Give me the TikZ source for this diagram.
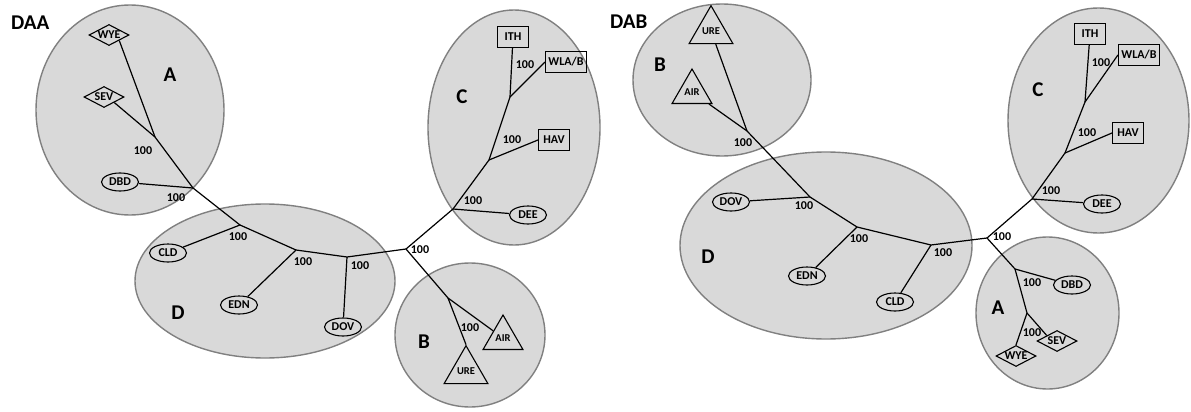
\documentclass[tikz,border=0pt]{standalone}
\usepackage{fontspec}
\setmainfont{Carlito}
\usetikzlibrary{shapes.geometric}
\definecolor{clusterfill}{RGB}{217,217,217}
\definecolor{clusterline}{RGB}{128,128,128}

\begin{document}
\begin{tikzpicture}[x=10pt,y=10pt]
\tikzstyle{cluster}=[draw=clusterline,fill=clusterfill,line width=1.4pt]
\tikzstyle{leafoval}=[ellipse,draw,line width=1.1pt,inner sep=0pt,minimum width=37pt,minimum height=18pt,font=\fontsize{12}{12}\selectfont\bfseries]
\tikzstyle{leafdiamond}=[diamond,draw,line width=1.1pt,inner sep=0pt,shape aspect=2,minimum width=40pt,minimum height=21pt,font=\fontsize{12}{12}\selectfont\bfseries]
\tikzstyle{leafbox}=[rectangle,draw,line width=1.1pt,inner sep=3pt,minimum width=31pt,minimum height=21pt,font=\fontsize{12}{12}\selectfont\bfseries]
\tikzstyle{leaftri}=[regular polygon,regular polygon sides=3,draw,line width=1.1pt,inner sep=0pt,minimum size=46pt,font=\fontsize{10.5}{11}\selectfont\bfseries]
\tikzstyle{support}=[inner sep=0pt,font=\fontsize{12}{12}\selectfont\bfseries]
\tikzstyle{clusterlabel}=[inner sep=0pt,font=\fontsize{21}{21}\selectfont\bfseries]
\tikzstyle{title}=[inner sep=0pt,anchor=west,font=\fontsize{21}{21}\selectfont\bfseries]
\tikzstyle{branch}=[black,line width=1.2pt]
\useasboundingbox (0,0) rectangle (119.1,-41.2);
% DAA clusters
\draw [cluster] (13.0,-11.0) ellipse (9.4 and 10.5);
\draw [cluster] (26.5,-28.1) ellipse (13.0 and 7.7);
\draw [cluster] (51.4,-12.75) ellipse (8.6 and 11.75);
\draw [cluster] (47.0,-33.5) ellipse (7.5 and 7.2);
% DAB clusters
\draw [cluster] (72.2,-8.0) ellipse (8.9 and 7.6);
\draw [cluster] (82.6,-24.55) ellipse (14.6 and 9.35);
\draw [cluster] (109.85,-12.05) ellipse (9.05 and 11.25);
\draw [cluster] (104.75,-31.3) ellipse (7.15 and 7.6);
% titles and cluster letters
\node [title] (daa) at (1.1,-2.3) {DAA};
\node [title] (dab) at (61.0,-2.2) {DAB};
\node [clusterlabel] (la) at (17.0,-7.5) {A};
\node [clusterlabel] (ld) at (17.8,-31.3) {D};
\node [clusterlabel] (lc) at (46.2,-9.7) {C};
\node [clusterlabel] (lb) at (42.4,-34.2) {B};
\node [clusterlabel] (rb) at (66.0,-6.5) {B};
\node [clusterlabel] (rd) at (70.8,-25.7) {D};
\node [clusterlabel] (rc) at (103.8,-9.0) {C};
\node [clusterlabel] (ra) at (99.8,-30.8) {A};
% DAA leaves
\node [leafdiamond] (wyel) at (10.9,-3.5) {WYE};
\node [leafdiamond] (sevl) at (10.4,-9.7) {SEV};
\node [leafoval] (dbdl) at (12.0,-18.2) {DBD};
\node [leafoval] (cldl) at (16.8,-25.3) {CLD};
\node [leafoval] (ednl) at (23.9,-30.5) {EDN};
\node [leafoval] (dovl) at (34.3,-32.7) {DOV};
\node [leafoval] (deel) at (52.8,-21.5) {DEE};
\node [leafbox] (havl) at (55.4,-14.0) {HAV};
\node [leafbox] (ithl) at (51.3,-3.7) {ITH};
\node [leafbox] (wlal) at (56.6,-6.2) {WLA/B};
\node [leaftri] (airl) at (50.3,-33.8) {AIR};
\node [leaftri] (urel) at (46.6,-37.1) {URE};
% DAA inner nodes
\coordinate (ja1) at (15.5,-13.7);
\coordinate (ja2) at (19.3,-18.8);
\coordinate (jd1) at (24.0,-22.5);
\coordinate (jd2) at (29.6,-25.0);
\coordinate (jd3) at (34.7,-25.7);
\coordinate (jroot) at (40.6,-24.9);
\coordinate (jc1) at (45.3,-20.9);
\coordinate (jc2) at (48.9,-16.0);
\coordinate (jc3) at (51.0,-9.7);
\coordinate (jb1) at (44.8,-29.8);
\draw [branch] (wyel.south east) -- (ja1);
\draw [branch] (sevl.south east) -- (ja1);
\draw [branch] (ja1) -- (ja2);
\draw [branch] (dbdl) -- (ja2);
\draw [branch] (ja2) -- (jd1);
\draw [branch] (jd1) -- (cldl);
\draw [branch] (jd1) -- (jd2);
\draw [branch] (jd2) -- (ednl);
\draw [branch] (jd2) -- (jd3);
\draw [branch] (jd3) -- (dovl);
\draw [branch] (jd3) -- (jroot);
\draw [branch] (jroot) -- (jc1);
\draw [branch] (jc1) -- (deel);
\draw [branch] (jc1) -- (jc2);
\draw [branch] (jc2) -- (havl.west);
\draw [branch] (jc2) -- (jc3);
\draw [branch] (jc3) -- (ithl);
\draw [branch] (jc3) -- (wlal.west);
\draw [branch] (jroot) -- (jb1);
\draw [branch] (jb1) -- (airl);
\draw [branch] (jb1) -- (urel.corner 1);
\node [support] (sa1) at (14.3,-15.1) {100};
\node [support] (sa2) at (17.6,-19.8) {100};
\node [support] (sd1) at (23.8,-23.7) {100};
\node [support] (sd2) at (30.3,-26.2) {100};
\node [support] (sd3) at (36.0,-26.6) {100};
\node [support] (sroot) at (42.0,-25.0) {100};
\node [support] (sc1) at (47.3,-20.1) {100};
\node [support] (sc2) at (51.2,-14.0) {100};
\node [support] (sc3) at (52.5,-6.5) {100};
\node [support] (sb1) at (47.0,-32.8) {100};
% DAB leaves
\node [leaftri] (urer) at (71.1,-3.1) {URE};
\node [leaftri] (airr) at (69.2,-9.2) {AIR};
\node [leafoval] (dovr) at (73.1,-20.2) {DOV};
\node [leafoval] (ednr) at (80.7,-27.6) {EDN};
\node [leafoval] (cldr) at (89.5,-30.2) {CLD};
\node [leafbox] (ithr) at (109.0,-3.4) {ITH};
\node [leafbox] (wlar) at (113.9,-5.5) {WLA/B};
\node [leafbox] (havr) at (112.8,-13.3) {HAV};
\node [leafoval] (deer) at (110.2,-20.4) {DEE};
\node [leafoval] (dbdr) at (107.2,-28.5) {DBD};
\node [leafdiamond] (sevr) at (105.7,-34.1) {SEV};
\node [leafdiamond] (wyer) at (101.6,-35.6) {WYE};
% DAB inner nodes
\coordinate (kb1) at (74.7,-13.1);
\coordinate (kd1) at (81.0,-19.7);
\coordinate (kd2) at (85.7,-22.7);
\coordinate (kd3) at (93.1,-24.5);
\coordinate (kroot) at (98.7,-23.8);
\coordinate (kc1) at (103.2,-19.9);
\coordinate (kc2) at (106.5,-15.3);
\coordinate (kc3) at (108.5,-10.2);
\coordinate (ka1) at (101.5,-26.9);
\coordinate (ka2) at (102.7,-31.3);
\draw [branch] (urer) -- (kb1);
\draw [branch] (airr) -- (kb1);
\draw [branch] (kb1) -- (kd1);
\draw [branch] (kd1) -- (dovr);
\draw [branch] (kd1) -- (kd2);
\draw [branch] (kd2) -- (ednr);
\draw [branch] (kd2) -- (kd3);
\draw [branch] (kd3) -- (cldr);
\draw [branch] (kd3) -- (kroot);
\draw [branch] (kroot) -- (kc1);
\draw [branch] (kc1) -- (deer);
\draw [branch] (kc1) -- (kc2);
\draw [branch] (kc2) -- (havr.west);
\draw [branch] (kc2) -- (kc3);
\draw [branch] (kc3) -- (ithr);
\draw [branch] (kc3) -- (wlar.west);
\draw [branch] (kroot) -- (ka1);
\draw [branch] (ka1) -- (dbdr);
\draw [branch] (ka1) -- (ka2);
\draw [branch] (ka2) -- (sevr.north west);
\draw [branch] (ka2) -- (wyer.north);
\node [support] (tb1) at (74.3,-14.3) {100};
\node [support] (td1) at (80.4,-20.6) {100};
\node [support] (td2) at (85.9,-23.9) {100};
\node [support] (td3) at (94.3,-25.3) {100};
\node [support] (troot) at (100.2,-23.7) {100};
\node [support] (tc1) at (105.1,-19.1) {100};
\node [support] (tc2) at (108.7,-13.3) {100};
\node [support] (tc3) at (110.1,-6.3) {100};
\node [support] (ta1) at (103.2,-28.3) {100};
\node [support] (ta2) at (103.2,-33.3) {100};
\end{tikzpicture}
\end{document}
